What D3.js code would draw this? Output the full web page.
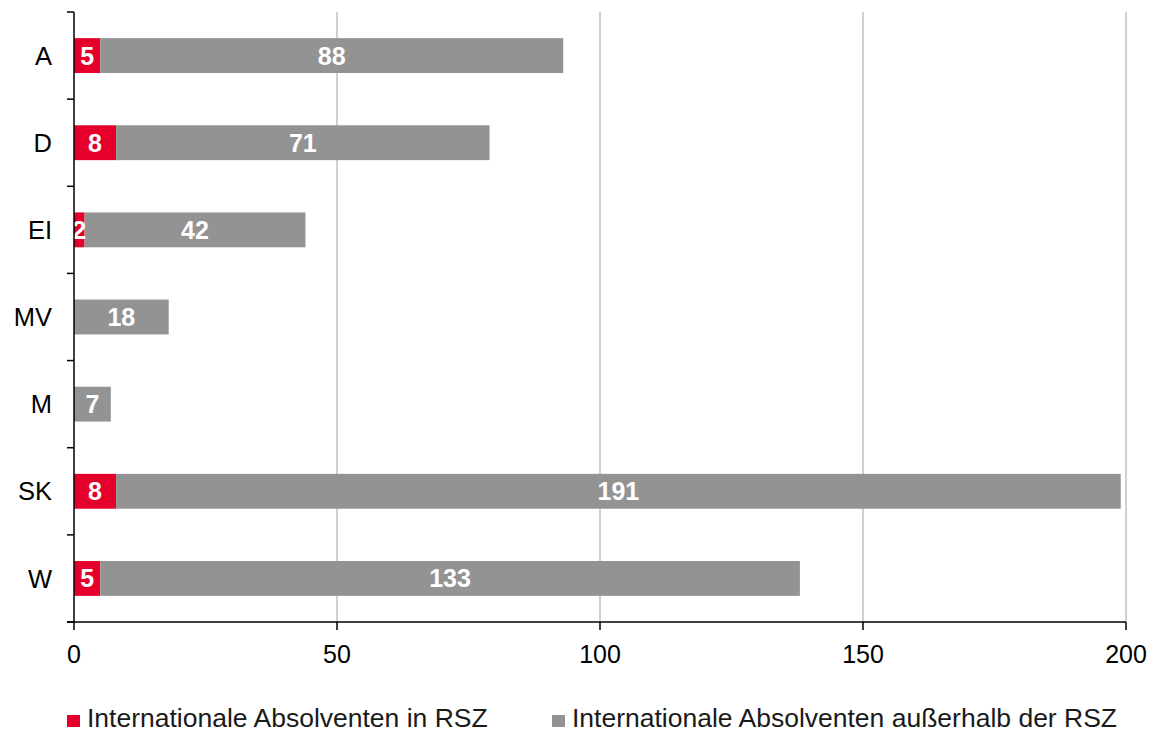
<!DOCTYPE html>
<html><head><meta charset="utf-8">
<script src="https://cdn.jsdelivr.net/npm/d3@7"></script>
<style>body{margin:0;background:#fff}svg{display:block}</style>
</head><body>
<svg id="c" width="1160" height="735"></svg>
<script>
const categories = ["A","D","EI","MV","M","SK","W"];
const inRSZ = [5,8,2,0,0,8,5];
const outRSZ = [88,71,42,18,7,191,133];
const xTicks = [0,50,100,150,200];
const seriesNames = ["Internationale Absolventen in RSZ","Internationale Absolventen außerhalb der RSZ"];
const colors = ["#e4002b","#939393"];

(function(){
const svg = d3.select("#c");
const pL = 74, pR = 1126, pT = 12, pB = 622;
const x = d3.scaleLinear().domain([0,200]).range([pL,pR]);
const y = d3.scaleBand().domain(categories).range([pT,pB]).paddingInner(0.6).paddingOuter(0.3);
const font = "Liberation Sans, Arial, sans-serif";

// gridlines
svg.append("g").selectAll("line").data(xTicks.slice(1)).join("line")
  .attr("x1",d=>x(d)).attr("x2",d=>x(d)).attr("y1",pT).attr("y2",pB)
  .attr("stroke","#c0c0c0").attr("stroke-width",1.5);

const data = categories.map((c,i)=>({c, a:inRSZ[i], b:outRSZ[i]}));
const g = svg.append("g");
data.forEach(d=>{
  if(d.a>0){
    g.append("rect").attr("x",x(0)).attr("y",y(d.c)).attr("width",x(d.a)-x(0)).attr("height",y.bandwidth()).attr("fill",colors[0]);
  }
  g.append("rect").attr("x",x(d.a)).attr("y",y(d.c)).attr("width",x(d.a+d.b)-x(d.a)).attr("height",y.bandwidth()).attr("fill",colors[1]);
  if(d.a>0){
    g.append("text").attr("x",(x(0)+x(d.a))/2).attr("y",y(d.c)+y.bandwidth()/2).attr("dy","0.36em")
      .attr("text-anchor","middle").attr("fill","#fff").attr("font-weight","bold").attr("font-size",25).attr("font-family",font).text(d.a);
  }
  g.append("text").attr("x",(x(d.a)+x(d.a+d.b))/2).attr("y",y(d.c)+y.bandwidth()/2).attr("dy","0.36em")
    .attr("text-anchor","middle").attr("fill","#fff").attr("font-weight","bold").attr("font-size",25).attr("font-family",font).text(d.b);
});

// y axis
const step = (pB-pT)/categories.length;
svg.append("line").attr("x1",pL).attr("x2",pL).attr("y1",pT).attr("y2",pB).attr("stroke","#000").attr("stroke-width",1.5);
for(let i=0;i<=categories.length;i++){
  svg.append("line").attr("x1",pL-7).attr("x2",pL).attr("y1",pT+i*step).attr("y2",pT+i*step).attr("stroke","#000").attr("stroke-width",1.5);
}
svg.append("g").selectAll("text").data(categories).join("text")
  .attr("x",52).attr("y",d=>y(d)+y.bandwidth()/2).attr("dy","0.36em").attr("text-anchor","end")
  .attr("font-size",25.5).attr("font-family",font).attr("fill","#000").text(d=>d);

// x axis
svg.append("line").attr("x1",pL-7).attr("x2",pR).attr("y1",pB).attr("y2",pB).attr("stroke","#000").attr("stroke-width",1.5);
svg.append("g").selectAll("line").data(xTicks).join("line")
  .attr("x1",d=>x(d)).attr("x2",d=>x(d)).attr("y1",pB).attr("y2",pB+8).attr("stroke","#000").attr("stroke-width",1.5);
svg.append("g").selectAll("text").data(xTicks).join("text")
  .attr("x",d=>x(d)).attr("y",663).attr("text-anchor","middle")
  .attr("font-size",25).attr("font-family",font).attr("fill","#000").text(d=>d);

// legend
const legX = [67,552];
seriesNames.forEach((n,i)=>{
  svg.append("rect").attr("x",legX[i]).attr("y",715).attr("width",13).attr("height",12).attr("fill",colors[i]);
  svg.append("text").attr("x",legX[i]+20).attr("y",727).attr("font-size",26.5).attr("font-family",font).attr("fill","#1a1a1a").text(n);
});
})();
</script>
</body></html>
